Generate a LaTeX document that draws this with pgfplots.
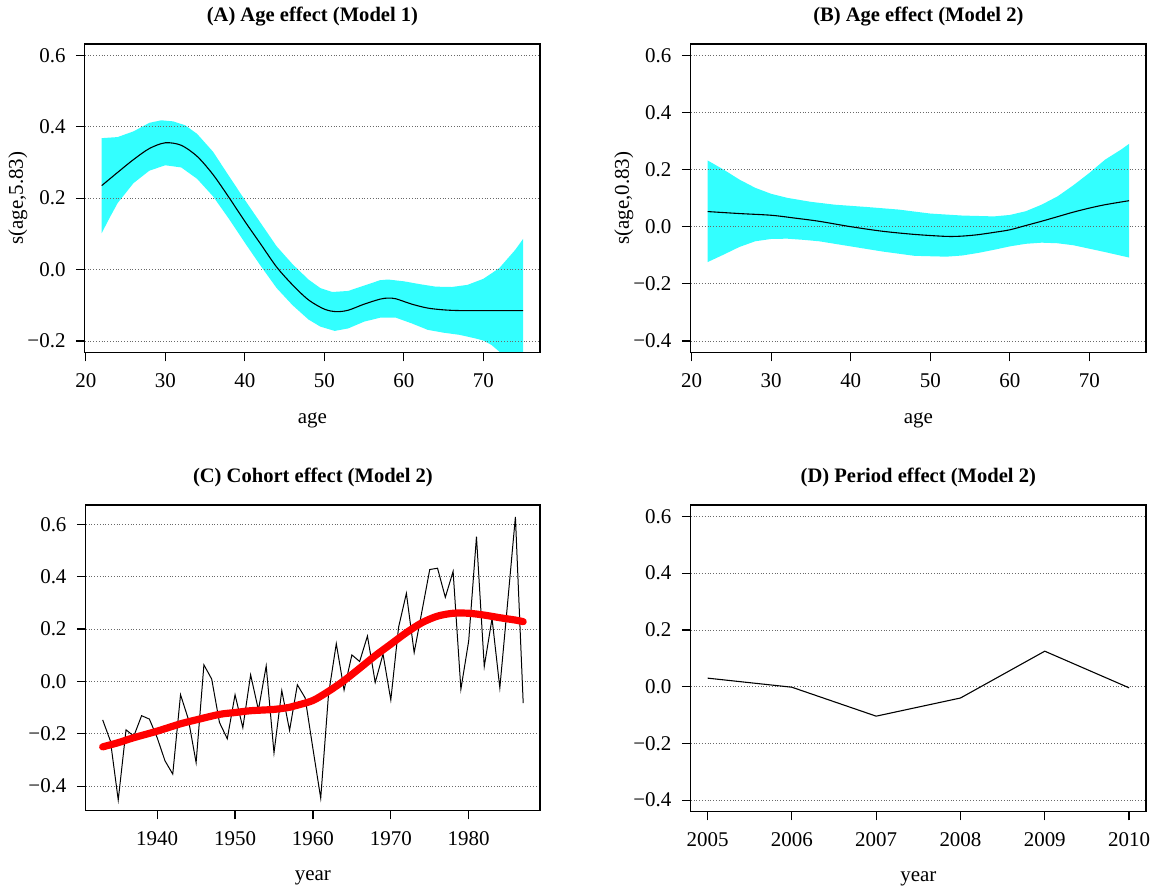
\documentclass[border=0pt]{standalone}
\usepackage{fontspec}
\setmainfont{Liberation Serif}
\usepackage{pgfplots}
\pgfplotsset{compat=1.18}

\definecolor{bandcyan}{RGB}{51,255,255}
\definecolor{gridgray}{RGB}{105,105,105}

\pgfplotsset{
  set layers,
  every axis title shift=0pt,
  rpanel/.style={
    scale only axis, anchor=south west, clip mode=individual,
    axis line style={line width=0.6pt},
    tick align=outside, xtick pos=bottom, ytick pos=left,
    major tick length=4.5pt,
    tick style={black, line width=0.6pt},
    ymajorgrids, grid style={densely dotted, gridgray, line width=0.4pt},
    ticklabel style={font=\fontsize{10.5}{12}\selectfont, inner sep=0pt},
    xticklabel style={anchor=base, yshift=-13pt},
    yticklabel style={anchor=east, xshift=-5pt},
    label style={font=\fontsize{10.5}{12}\selectfont},
    title style={font=\bfseries\fontsize{10.3}{12}\selectfont,
      at={(axis description cs:0.5,1.09)}, anchor=center},
    xlabel style={at={(axis description cs:0.5,-0.23)}, anchor=base},
    ylabel style={at={(axis description cs:-0.147,0.5)}, anchor=center},
  },
  agex/.style={xmin=19.88, xmax=77.12, xtick={20,30,40,50,60,70},
    xticklabels={20,30,40,50,60,70}, xlabel={age}},
}

\begin{document}
\begin{tikzpicture}

% (A)
\begin{axis}[rpanel, agex, at={(42.5pt,270.5pt)}, width=228pt, height=154.5pt,
  ymin=-0.232, ymax=0.632, ytick={-0.2,0,0.2,0.4,0.6},
  yticklabels={−0.2,0.0,0.2,0.4,0.6},
  ylabel={s(age,5.83)}, title={(A) Age effect (Model 1)}]
% band: upper edge left to right, then lower edge right to left
\addplot[fill=bandcyan, draw=none, on layer=axis background] coordinates {
 (22,0.368)(24,0.371)(26,0.387)(28,0.411)(29.5,0.418)(31,0.415)(32.5,0.404)
 (34,0.380)(36,0.330)(38,0.262)(40,0.195)(42,0.130)(44,0.065)(46,0.015)
 (48,-0.028)(49.5,-0.052)(51,-0.063)(53,-0.060)(55,-0.045)(57,-0.030)
 (58,-0.028)(60,-0.033)(62,-0.041)(64,-0.048)(66,-0.049)(68,-0.043)
 (70,-0.026)(72,0.004)(74,0.055)(75,0.086)
 (75,-0.290)(74,-0.270)(73,-0.249)(72,-0.230)(71,-0.211)(70,-0.199)
 (69,-0.193)(67,-0.183)(65,-0.177)(63,-0.169)(61,-0.151)(59,-0.135)
 (57,-0.135)(55,-0.146)(53,-0.165)(51.3,-0.172)(49.5,-0.160)(48,-0.140)
 (46,-0.100)(44,-0.052)(42,0.010)(40,0.075)(38,0.142)(36,0.205)(34,0.254)
 (32,0.286)(30,0.292)(28,0.277)(26,0.242)(24,0.186)(23,0.145)(22,0.102)};
\addplot[black, line width=0.55pt, smooth] coordinates {
 (22,0.235)(24,0.272)(26,0.308)(28,0.339)(30,0.355)(32,0.348)(34,0.317)
 (36,0.266)(38,0.202)(40,0.135)(42,0.071)(44,0.007)(46,-0.043)(48,-0.085)
 (50,-0.111)(51.5,-0.118)(53,-0.114)(55,-0.097)(57,-0.083)(58,-0.080)
 (59,-0.082)(61,-0.097)(63,-0.108)(65,-0.113)(67,-0.115)(70,-0.115)(75,-0.115)};
\end{axis}

% (B)
\begin{axis}[rpanel, agex, at={(346pt,270.5pt)}, width=228pt, height=154.5pt,
  ymin=-0.44, ymax=0.64, ytick={-0.4,-0.2,0,0.2,0.4,0.6},
  yticklabels={−0.4,−0.2,0.0,0.2,0.4,0.6},
  ylabel={s(age,0.83)}, title={(B) Age effect (Model 2)}]
\addplot[fill=bandcyan, draw=none, on layer=axis background] coordinates {
 (22,0.232)(24,0.200)(26,0.165)(28,0.136)(30,0.115)(32,0.101)(35,0.087)
 (38,0.077)(42,0.069)(46,0.060)(50,0.046)(54,0.039)(58,0.036)(60,0.041)
 (62,0.054)(64,0.077)(66,0.106)(68,0.145)(70,0.188)(72,0.235)(74,0.270)(75,0.290)
 (75,-0.108)(72,-0.089)(70,-0.077)(68,-0.065)(66,-0.058)(64,-0.056)(62,-0.060)
 (60,-0.069)(58,-0.081)(56,-0.092)(54,-0.101)(52,-0.105)(48,-0.102)(44,-0.087)
 (40,-0.069)(36,-0.051)(34,-0.046)(32,-0.042)(30,-0.043)(28,-0.051)(26,-0.071)
 (24,-0.098)(22,-0.124)};
\addplot[black, line width=0.55pt, smooth] coordinates {
 (22,0.053)(26,0.046)(30,0.040)(33,0.030)(36,0.019)(40,0.000)(44,-0.016)
 (48,-0.027)(52,-0.034)(54,-0.033)(56,-0.028)(58,-0.020)(60,-0.011)(62,0.004)
 (64,0.019)(66,0.035)(68,0.051)(70,0.065)(72,0.077)(75,0.091)};
\end{axis}

% (C)
\begin{axis}[rpanel, at={(43pt,41pt)}, width=227.5pt, height=153pt,
  xmin=1930.84, xmax=1989.16, xtick={1940,1950,1960,1970,1980},
  xticklabels={1940,1950,1960,1970,1980}, xlabel={year},
  ymin=-0.493, ymax=0.673, ytick={-0.4,-0.2,0,0.2,0.4,0.6},
  yticklabels={−0.4,−0.2,0.0,0.2,0.4,0.6},
  title={(C) Cohort effect (Model 2)}]
\addplot[black, line width=0.5pt] coordinates {
 (1933,-0.147)(1934,-0.228)(1935,-0.453)(1936,-0.185)(1937,-0.209)(1938,-0.131)
 (1939,-0.144)(1940,-0.215)(1941,-0.303)(1942,-0.354)(1943,-0.051)(1944,-0.144)
 (1945,-0.310)(1946,0.063)(1947,0.009)(1948,-0.157)(1949,-0.219)(1950,-0.051)
 (1951,-0.177)(1952,0.025)(1953,-0.109)(1954,0.059)(1955,-0.273)(1956,-0.035)
 (1957,-0.187)(1958,-0.013)(1959,-0.063)(1960,-0.257)(1961,-0.446)(1962,-0.050)
 (1963,0.144)(1964,-0.033)(1965,0.101)(1966,0.076)(1967,0.173)(1968,-0.004)
 (1969,0.104)(1970,-0.071)(1971,0.207)(1972,0.336)(1973,0.110)(1974,0.268)
 (1975,0.427)(1976,0.432)(1977,0.321)(1978,0.420)(1979,-0.030)(1980,0.154)
 (1981,0.552)(1982,0.057)(1983,0.240)(1984,-0.025)(1985,0.300)(1986,0.628)
 (1987,-0.083)};
\addplot[red, line width=3.6pt, line cap=round, smooth] coordinates {
 (1933,-0.250)(1935,-0.234)(1937,-0.215)(1940,-0.190)(1943,-0.162)(1945,-0.147)
 (1948,-0.126)(1950,-0.119)(1952,-0.112)(1955,-0.107)(1957,-0.099)(1958,-0.091)
 (1960,-0.073)(1962,-0.038)(1964,0.003)(1966,0.050)(1968,0.098)(1970,0.142)
 (1972,0.186)(1974,0.224)(1976,0.249)(1978,0.260)(1980,0.260)(1982,0.253)
 (1984,0.243)(1986,0.234)(1987,0.228)};
\end{axis}

% (D)
\begin{axis}[rpanel, at={(346pt,40.5pt)}, width=228pt, height=153.5pt,
  xmin=2004.8, xmax=2010.2, xtick={2005,2006,2007,2008,2009,2010},
  xticklabels={2005,2006,2007,2008,2009,2010}, xlabel={year},
  ymin=-0.44, ymax=0.64, ytick={-0.4,-0.2,0,0.2,0.4,0.6},
  yticklabels={−0.4,−0.2,0.0,0.2,0.4,0.6},
  title={(D) Period effect (Model 2)}]
\addplot[black, line width=0.55pt] coordinates {
 (2005,0.030)(2006,-0.002)(2007,-0.104)(2008,-0.040)(2009,0.125)(2010,-0.004)};
\end{axis}
\path[use as bounding box] (0pt,0pt) rectangle (575pt,446.5pt);
\end{tikzpicture}
\end{document}
